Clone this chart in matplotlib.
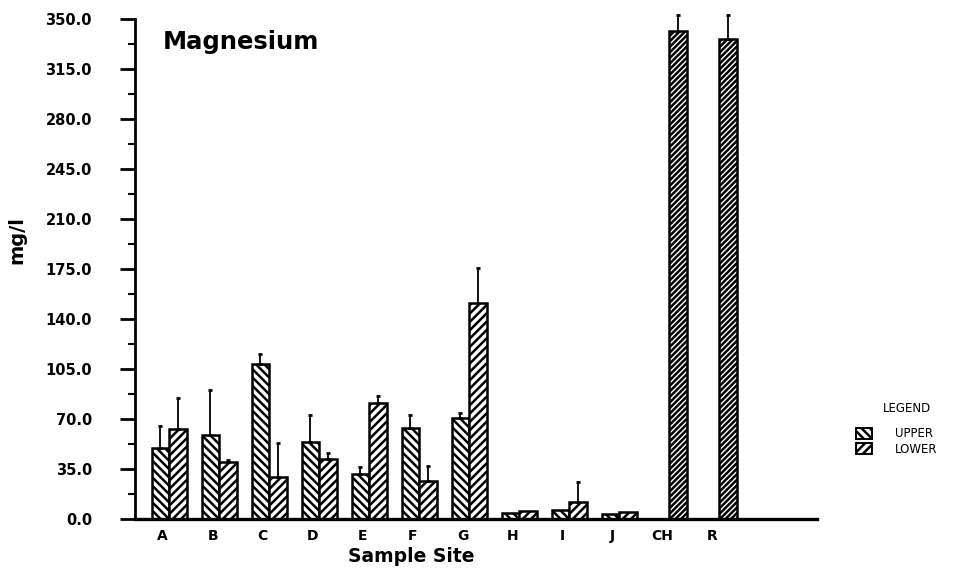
import numpy as np
import matplotlib
matplotlib.use("Agg")
import matplotlib.pyplot as plt
from matplotlib.patches import Patch

# Magnesium concentration (mg/l) by sample site, upper and lower layers
sites = ["A", "B", "C", "D", "E", "F", "G", "H", "I", "J", "CH", "R"]
upper = [49.5, 58.8, 108.3, 53.7, 31.3, 63.9, 70.5, 4.0, 6.3, 3.5, np.nan, np.nan]
upper_err = [15.5, 31.5, 7.2, 19.1, 5.3, 8.9, 3.9, 0, 0, 0, 0, 0]
lower = [63.0, 40.1, 29.6, 41.8, 81.0, 26.6, 151.4, 5.4, 11.7, 5.0, 341.6, 335.8]
lower_err = [21.7, 0.9, 23.4, 4.6, 5.0, 10.7, 24.3, 0, 14.3, 0, 11.2, 17.0]
yticks = [0, 35, 70, 105, 140, 175, 210, 245, 280, 315, 350]

plt.rcParams["hatch.linewidth"] = 1.8
plt.rcParams["font.family"] = "DejaVu Sans"

UP_HATCH = "\\" * 4
LO_HATCH = "/" * 4

fig = plt.figure(figsize=(9.58, 5.74), dpi=100)
ax = fig.add_axes([135 / 958, 1 - 519 / 574, (817 - 135) / 958, 500 / 574])

pos = np.arange(len(sites))
w = 0.35
up_x = pos - 0.22
lo_x = pos + 0.13

ax.bar(up_x, upper, width=w, align="edge", color="white", edgecolor="black",
       hatch=UP_HATCH, linewidth=1.8)
lo_bars = ax.bar(lo_x, lower, width=w, align="edge", color="white",
                 edgecolor="black", hatch=LO_HATCH, linewidth=1.8)
# the two tall single bars carry a finer hatch
for b, s in zip(lo_bars, sites):
    if s in ("CH", "R"):
        b.set_hatch("/" * 6)

# one-sided error bars, drawn upward only
up = np.array(upper, dtype=float)
lo = np.array(lower, dtype=float)
ue = np.array(upper_err)
le = np.array(lower_err)
m = ue > 0
eb1 = ax.errorbar(up_x[m] + w / 2, up[m], yerr=[np.zeros(m.sum()), ue[m]],
                  fmt="none", ecolor="black", elinewidth=1.3, capsize=1.5,
                  capthick=2)
m = le > 0
eb2 = ax.errorbar(lo_x[m] + w / 2, lo[m], yerr=[np.zeros(m.sum()), le[m]],
                  fmt="none", ecolor="black", elinewidth=1.3, capsize=1.5,
                  capthick=2)
for eb in (eb1, eb2):
    for art in eb.lines[1] + eb.lines[2]:
        art.set_clip_on(False)

ax.set_xlim(-0.554, 13.09)
ax.set_ylim(0, 350)

ax.spines["top"].set_visible(False)
ax.spines["right"].set_visible(False)
ax.spines["left"].set_linewidth(2)
ax.spines["bottom"].set_linewidth(2.4)

ax.set_yticks(yticks)
ax.set_yticklabels([f"{v:.1f}" for v in yticks], fontsize=10.5, fontweight="bold")
ax.set_yticks(np.arange(17.5, 350, 35), minor=True)
ax.tick_params(axis="y", which="major", direction="out", length=11, width=2, pad=20)
ax.tick_params(axis="y", which="minor", direction="out", length=5, width=1.5)

ax.set_xticks(pos)
ax.set_xticklabels(sites, fontsize=10, fontweight="bold")
ax.tick_params(axis="x", length=0, pad=7)

ax.text(0.0, 334, "Magnesium", fontsize=17.5, fontweight="bold",
        ha="left", va="center")

fig.text(17 / 958, 1 - 240 / 574, "mg/l", rotation=90, fontsize=14,
         fontweight="bold", ha="center", va="center")
fig.text(411 / 958, 1 - 557 / 574, "Sample Site", fontsize=13.5,
         fontweight="bold", ha="center", va="center")

# legend block at the lower right
fig.text(907 / 958, 1 - 408 / 574, "LEGEND", fontsize=8.5, ha="center",
         va="center")
handles = [Patch(facecolor="white", edgecolor="black", hatch=UP_HATCH, linewidth=1.4),
           Patch(facecolor="white", edgecolor="black", hatch=LO_HATCH, linewidth=1.4)]
fig.legend(handles, ["UPPER", "LOWER"], frameon=False, loc="upper left",
           bbox_to_anchor=(848 / 958, 1 - 419 / 574), fontsize=8.5,
           handlelength=1.35, handleheight=1.0, handletextpad=1.9,
           labelspacing=0.2, borderpad=0.2)

fig.savefig("out.png", dpi=100)
